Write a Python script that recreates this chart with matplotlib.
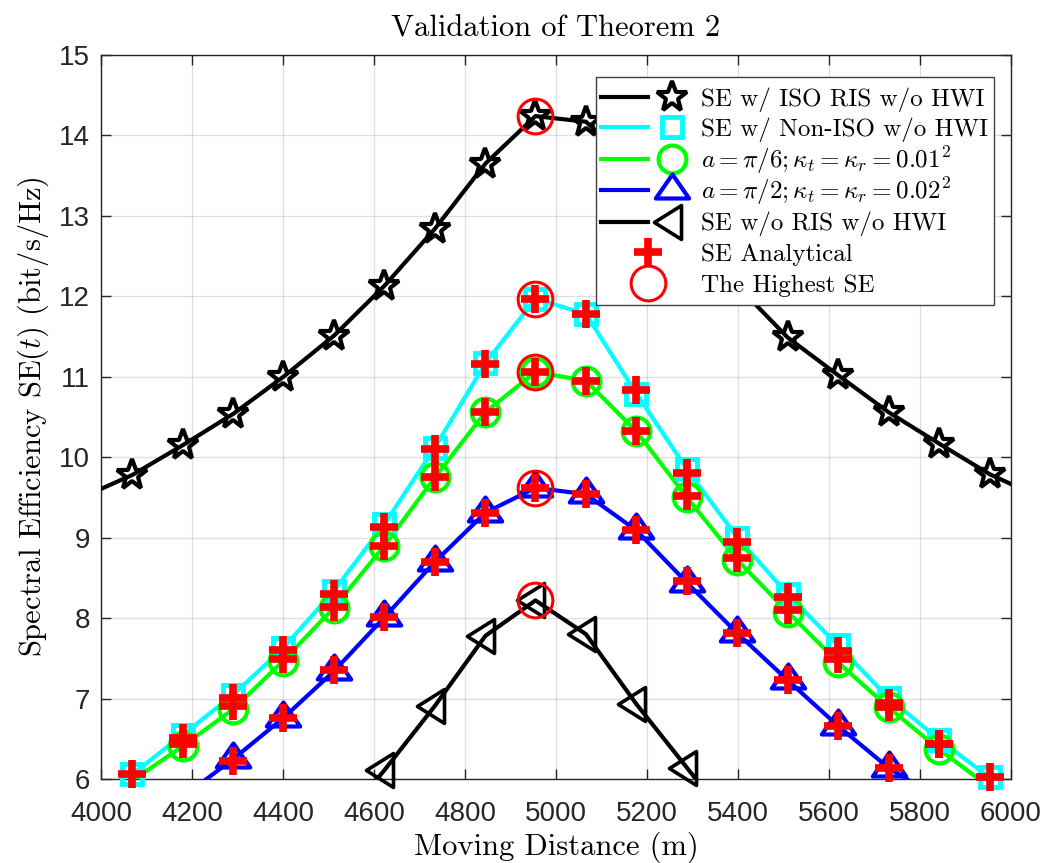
import numpy as np
import matplotlib
matplotlib.use("Agg")
import matplotlib.pyplot as plt
from matplotlib.path import Path
from matplotlib.legend_handler import HandlerTuple

nan = np.nan

# Moving distance of the user (m)
distance = [3958, 4069, 4180, 4291, 4401, 4512, 4623, 4734, 4845, 4955,
            5066, 5177, 5288, 5399, 5509, 5620, 5731, 5842, 5953, 6064]

# Simulated spectral efficiency (bit/s/Hz)
se_iso = [9.50, 9.78, 10.15, 10.54, 11.00, 11.51, 12.13, 12.84, 13.65, 14.24,
          14.17, 13.60, 12.84, 12.13, 11.49, 11.02, 10.56, 10.17, 9.79, 9.50]
se_noniso = [5.62, 6.06, 6.55, 7.05, 7.63, 8.34, 9.17, 10.12, 11.17, 11.97,
             11.78, 10.79, 9.85, 9.00, 8.30, 7.66, 7.01, 6.49, 6.02, 5.60]
se_pi6 = [nan, 5.98, 6.41, 6.87, 7.47, 8.13, 8.90, 9.75, 10.56, 11.06,
          10.95, 10.32, 9.50, 8.72, 8.08, 7.45, 6.89, 6.37, 5.90, nan]
se_pi2 = [nan, 5.35, 5.78, 6.25, 6.76, 7.34, 8.01, 8.70, 9.31, 9.62,
          9.54, 9.09, 8.44, 7.81, 7.23, 6.66, 6.14, 5.75, 5.35, nan]
se_noris = [nan, nan, nan, nan, nan, 5.35, 6.11, 6.91, 7.78, 8.22,
            7.80, 6.93, 6.14, 5.35, nan, nan, nan, nan, nan, nan]

# Analytical spectral efficiency (bit/s/Hz)
ana_noniso = [nan, 6.06, 6.51, 7.01, 7.61, 8.30, 9.13, 10.10, 11.16, 11.97,
              11.78, 10.84, 9.81, 8.95, 8.26, 7.59, 6.95, 6.44, 6.02, nan]
ana_pi6 = [nan, nan, 6.43, 6.91, 7.49, 8.14, 8.90, 9.75, 10.56, 11.06,
           10.95, 10.32, 9.52, 8.75, 8.10, 7.49, 6.90, 6.43, nan, nan]
ana_pi2 = [nan, nan, nan, 6.22, 6.76, 7.35, 8.01, 8.70, 9.31, 9.62,
           9.54, 9.09, 8.46, 7.81, 7.23, 6.66, 6.14, nan, nan, nan]

labels = ["SE w/ ISO RIS w/o HWI",
          "SE w/ Non-ISO w/o HWI",
          r"$a=\pi/6;\kappa_t=\kappa_r=0.01^2$",
          r"$a=\pi/2;\kappa_t=\kappa_r=0.02^2$",
          "SE w/o RIS w/o HWI",
          "SE Analytical",
          "The Highest SE"]

XMIN, XMAX, YMIN, YMAX = 4000, 6000, 6, 15

plt.rcParams["mathtext.fontset"] = "cm"
SERIF = "cmr10"
SANS = "Liberation Sans"
AXC = "#262626"

# MATLAB-like triangles centred on their centroid
tri_up = Path([(0, 0.96), (-1, -0.48), (1, -0.48), (0, 0)], closed=True)
tri_left = Path([(-1.0, 0), (0.5, 0.94), (0.5, -0.94), (0, 0)], closed=True)

fig = plt.figure(figsize=(10.56, 8.63), dpi=100)
ax = fig.add_axes([0.0956, 0.0973, 0.8617, 0.8390])

x = np.array(distance, dtype=float)


def visible(vals):
    v = np.array(vals, dtype=float)
    ok = (v >= YMIN) & (v <= YMAX) & (x >= XMIN) & (x <= XMAX)
    return np.where(ok, v, nan)


def series(vals, color, marker, ms, mew, lw=3.0):
    ln, = ax.plot(x, vals, color=color, lw=lw, zorder=3)
    mk, = ax.plot(x, visible(vals), ls="none", marker=marker, ms=ms,
                  mew=mew, mec=color, mfc="none", clip_on=False, zorder=4)
    return (ln, mk)


h_iso = series(se_iso, "black", "*", 22.5, 3.0)
h_non = series(se_noniso, (0, 1, 1), "s", 14.5, 3.5)
h_pi6 = series(se_pi6, (0, 1, 0), "o", 20, 3.0)
h_pi2 = series(se_pi2, (0, 0, 1), tri_up, 24, 3.0)
h_nor = series(se_noris, "black", tri_left, 26, 2.6)

h_ana = None
for vals in (ana_noniso, ana_pi6, ana_pi2):
    h_ana, = ax.plot(x, visible(vals), ls="none", marker="+", ms=20.5,
                     mew=5.5, color="red", clip_on=False, zorder=5)

# Highest SE of every curve
peak_x, peak_y = [], []
for vals in (se_iso, se_noniso, se_pi6, se_pi2, se_noris):
    v = np.array(vals, dtype=float)
    i = int(np.nanargmax(v))
    peak_x.append(x[i])
    peak_y.append(v[i])
h_peak, = ax.plot(peak_x, peak_y, ls="none", marker="o", ms=25, mew=2.2,
                  mec="red", mfc="none", clip_on=False, zorder=6)

ax.set_xlim(XMIN, XMAX)
ax.set_ylim(YMIN, YMAX)
ax.set_xticks(np.arange(4000, 6001, 200))
ax.set_yticks(np.arange(6, 16, 1))
ax.grid(True, color=AXC, alpha=0.15, lw=0.9)
ax.set_axisbelow(True)
for s in ax.spines.values():
    s.set_color(AXC)
    s.set_linewidth(1.0)
ax.tick_params(direction="in", length=7, width=1.0, color=AXC,
               top=True, right=True, labelsize=20, labelcolor=AXC)
ax.tick_params(axis="x", pad=16)
ax.tick_params(axis="y", pad=8)
for t in ax.get_xticklabels() + ax.get_yticklabels():
    t.set_fontfamily(SANS)

ax.set_title("Validation of Theorem 2", fontfamily=SERIF, fontsize=22, pad=13)
ax.set_xlabel("Moving Distance (m)", fontfamily=SERIF, fontsize=22, labelpad=3)
ax.set_ylabel(r"Spectral Efficiency SE$(t)$ (bit/s/Hz)", fontfamily=SERIF,
              fontsize=22, labelpad=6)

leg = ax.legend([h_iso, h_non, h_pi6, h_pi2, h_nor, h_ana, h_peak], labels,
                handler_map={tuple: HandlerTuple(ndivide=None, pad=0)},
                loc="upper right", bbox_to_anchor=(0.9813, 0.9696),
                borderaxespad=0, prop={"family": SERIF, "size": 18},
                handlelength=3.75, labelspacing=0.0,
                handletextpad=0.25, borderpad=0.22, fancybox=False,
                framealpha=1, edgecolor="#404040")
leg.get_frame().set_linewidth(1.0)
leg.set_zorder(10)

# give every legend row the same height so the entries are evenly spaced
ROW_ASC, ROW_DESC = 16.6, 5.5
for column in leg._legend_handle_box.get_children():
    for row in column.get_children():
        handle_area = row.get_children()[0]
        handle_area.ydescent = ROW_DESC
        handle_area.height = ROW_ASC + ROW_DESC

fig.savefig("out.png", dpi=100)
